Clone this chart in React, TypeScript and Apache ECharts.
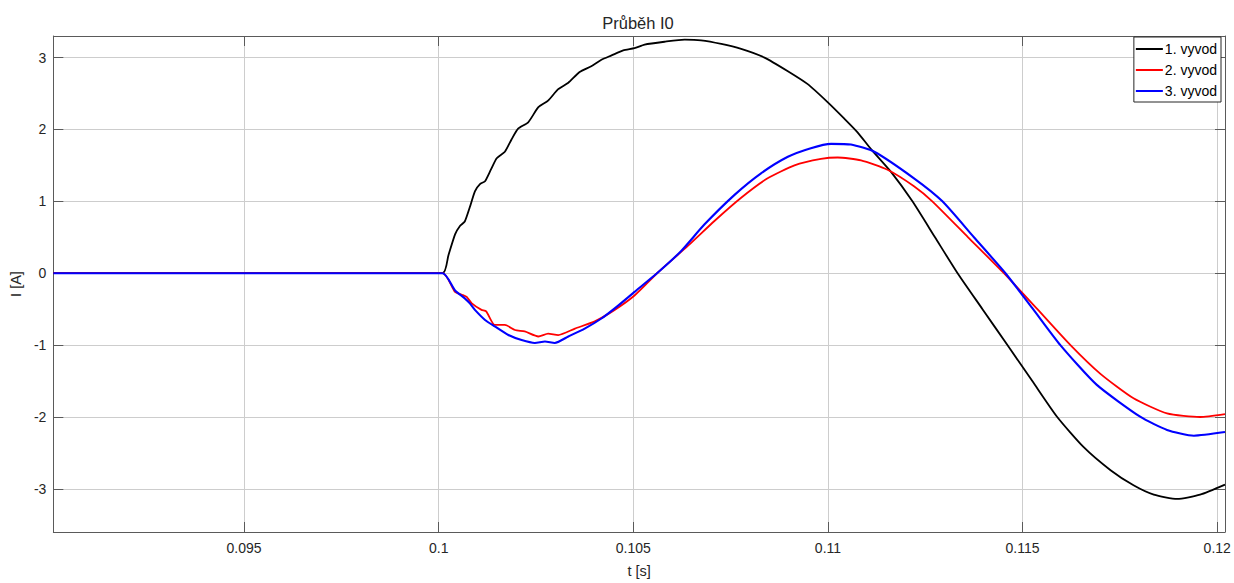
import React, { useEffect, useRef } from "react";
import * as echarts from "echarts";

const TITLE = "Průběh I0";
const X_NAME = "t [s]";
const Y_NAME = "I [A]";
const SERIES_NAMES = ["1. vyvod", "2. vyvod", "3. vyvod"];
const X_TICKS = [0.095, 0.1, 0.105, 0.11, 0.115, 0.12];
const Y_TICKS = [-3, -2, -1, 0, 1, 2, 3];
const X_MIN = 0.0901;
const X_MAX = 0.1202;
const Y_MIN = -3.6;
const Y_MAX = 3.3;

const t1 = [0.0901, 0.1001, 0.10025, 0.10042, 0.10055, 0.10067, 0.1008, 0.10093, 0.10106, 0.10119, 0.10134, 0.10149, 0.1017, 0.10187, 0.10204, 0.1023, 0.10256, 0.10281, 0.10307, 0.10333, 0.10362, 0.10392, 0.10418, 0.10444, 0.10474, 0.10503, 0.10529, 0.1058, 0.10632, 0.10674, 0.10726, 0.10777, 0.10837, 0.10897, 0.10948, 0.10999, 0.11042, 0.11076, 0.1111, 0.11162, 0.11217, 0.11275, 0.11333, 0.11397, 0.11461, 0.11525, 0.11589, 0.11657, 0.11726, 0.11785, 0.11837, 0.11897, 0.11956, 0.1202];
const v1 = [0, 0, 0.25, 0.54, 0.66, 0.72, 0.92, 1.14, 1.24, 1.28, 1.44, 1.6, 1.69, 1.86, 2.01, 2.1, 2.31, 2.4, 2.56, 2.65, 2.8, 2.88, 2.97, 3.03, 3.1, 3.13, 3.18, 3.22, 3.25, 3.24, 3.19, 3.12, 3.0, 2.81, 2.63, 2.38, 2.15, 1.96, 1.73, 1.41, 1.0, 0.5, 0.0, -0.5, -1.0, -1.5, -2.0, -2.42, -2.74, -2.95, -3.08, -3.14, -3.08, -2.94];

const t2 = [0.0901, 0.1001, 0.10042, 0.1006, 0.10072, 0.10085, 0.1011, 0.10122, 0.10144, 0.1017, 0.10196, 0.10221, 0.10256, 0.10281, 0.10307, 0.1035, 0.10401, 0.10452, 0.10503, 0.10563, 0.1064, 0.10709, 0.10777, 0.10845, 0.10914, 0.10982, 0.11025, 0.11085, 0.11153, 0.11221, 0.11268, 0.1136, 0.11452, 0.11538, 0.11623, 0.117, 0.11785, 0.11871, 0.11956, 0.1202];
const v2 = [0, 0, -0.26, -0.3, -0.33, -0.42, -0.51, -0.53, -0.72, -0.72, -0.79, -0.81, -0.88, -0.84, -0.86, -0.77, -0.67, -0.51, -0.31, 0.01, 0.38, 0.73, 1.05, 1.32, 1.5, 1.59, 1.61, 1.57, 1.44, 1.21, 1.0, 0.5, 0.0, -0.5, -1.0, -1.4, -1.74, -1.95, -2.0, -1.96];

const t3 = [0.0901, 0.1001, 0.10042, 0.10067, 0.1008, 0.10093, 0.10119, 0.10144, 0.10179, 0.10213, 0.10247, 0.10273, 0.10298, 0.10333, 0.10375, 0.10418, 0.10461, 0.10503, 0.10563, 0.10623, 0.10683, 0.1076, 0.10828, 0.10897, 0.10956, 0.11008, 0.11059, 0.11119, 0.11221, 0.11294, 0.11375, 0.11456, 0.11527, 0.11597, 0.1169, 0.11803, 0.11871, 0.1194, 0.1202];
const v3 = [0, 0, -0.24, -0.35, -0.42, -0.51, -0.65, -0.74, -0.86, -0.93, -0.97, -0.95, -0.97, -0.88, -0.77, -0.63, -0.45, -0.26, 0.01, 0.31, 0.68, 1.09, 1.39, 1.62, 1.74, 1.8, 1.79, 1.69, 1.32, 1.0, 0.5, 0.0, -0.5, -1.0, -1.55, -2.0, -2.18, -2.26, -2.21];

const COLORS = ["#000000", "#ff0000", "#0000ff"];
const WIDTHS = [1.8, 1.8, 2.1];
const FONT = "Liberation Sans, Arial, sans-serif";
const TEXT = "#262626";

function pairs(t: number[], v: number[]) {
  return t.map((x, i) => [x, v[i]]);
}

export default function App() {
  const ref = useRef<HTMLDivElement>(null);
  useEffect(() => {
    if (!ref.current) return;
    const chart = echarts.init(ref.current, undefined, { renderer: "svg" });
    const axisLine = { show: true, onZero: false, lineStyle: { color: "#5a5a5a", width: 1 } };
    const tick = (vals: number[]) => ({
      show: true,
      inside: true,
      length: 10,
      customValues: vals,
      lineStyle: { color: "#5a5a5a", width: 1 },
    });
    const split = { show: true, lineStyle: { color: "#cdcdcd", width: 1 } };
    const fmt = (v: number) => String(Math.round(v * 1000) / 1000);
    chart.setOption({
      animation: false,
      backgroundColor: "#ffffff",
      grid: { left: 51, right: 9, top: 36, bottom: 46, containLabel: false },
      graphic: [
        {
          type: "text",
          x: 638,
          y: 23,
          style: {
            text: TITLE,
            align: "center",
            verticalAlign: "middle",
            fontFamily: FONT,
            fontSize: 16.5,
            fill: TEXT,
          },
        },
      ],
      legend: {
        orient: "vertical",
        right: 13,
        top: 37,
        data: SERIES_NAMES,
        icon: "rect",
        itemWidth: 27,
        itemHeight: 2,
        itemGap: 5,
        padding: [4, 4, 3, 2],
        borderColor: "#262626",
        borderWidth: 1,
        borderRadius: 0,
        backgroundColor: "#ffffff",
        textStyle: { fontFamily: FONT, fontSize: 14, color: "#000", padding: [0, 0, 0, -3], lineHeight: 16 },
      },
      xAxis: [
        {
          type: "value",
          min: X_MIN,
          max: X_MAX,
          position: "bottom",
          name: X_NAME,
          nameLocation: "middle",
          nameGap: 31,
          nameTextStyle: { fontFamily: FONT, fontSize: 14.5, color: TEXT },
          axisLine,
          axisTick: tick(X_TICKS),
          splitLine: split,
          axisLabel: {
            customValues: X_TICKS,
            formatter: fmt,
            fontFamily: FONT,
            fontSize: 14,
            color: TEXT,
            margin: 9,
          },
        },
        {
          type: "value",
          min: X_MIN,
          max: X_MAX,
          position: "top",
          axisLine,
          axisTick: tick(X_TICKS),
          splitLine: { show: false },
          axisLabel: { show: false },
        },
      ],
      yAxis: [
        {
          type: "value",
          min: Y_MIN,
          max: Y_MAX,
          position: "left",
          name: Y_NAME,
          nameLocation: "middle",
          nameGap: 25,
          nameRotate: 90,
          nameTextStyle: { fontFamily: FONT, fontSize: 14.5, color: TEXT },
          axisLine,
          axisTick: tick(Y_TICKS),
          splitLine: split,
          axisLabel: {
            customValues: Y_TICKS,
            fontFamily: FONT,
            fontSize: 14,
            color: TEXT,
            margin: 7,
          },
        },
        {
          type: "value",
          min: Y_MIN,
          max: Y_MAX,
          position: "right",
          axisLine,
          axisTick: tick(Y_TICKS),
          splitLine: { show: false },
          axisLabel: { show: false },
        },
      ],
      series: [
        { name: SERIES_NAMES[0], data: pairs(t1, v1) },
        { name: SERIES_NAMES[1], data: pairs(t2, v2) },
        { name: SERIES_NAMES[2], data: pairs(t3, v3) },
      ].map((s, i) => ({
        ...s,
        type: "line",
        xAxisIndex: 0,
        yAxisIndex: 0,
        symbol: "none",
        showSymbol: false,
        smooth: 0.2,
        color: COLORS[i],
        lineStyle: { color: COLORS[i], width: WIDTHS[i] },
        z: 3 + i,
      })),
    });
    return () => chart.dispose();
  }, []);
  return (
    <div
      ref={ref}
      style={{ position: "fixed", left: 0, top: 0, width: 1234, height: 583, background: "#fff" }}
    />
  );
}
